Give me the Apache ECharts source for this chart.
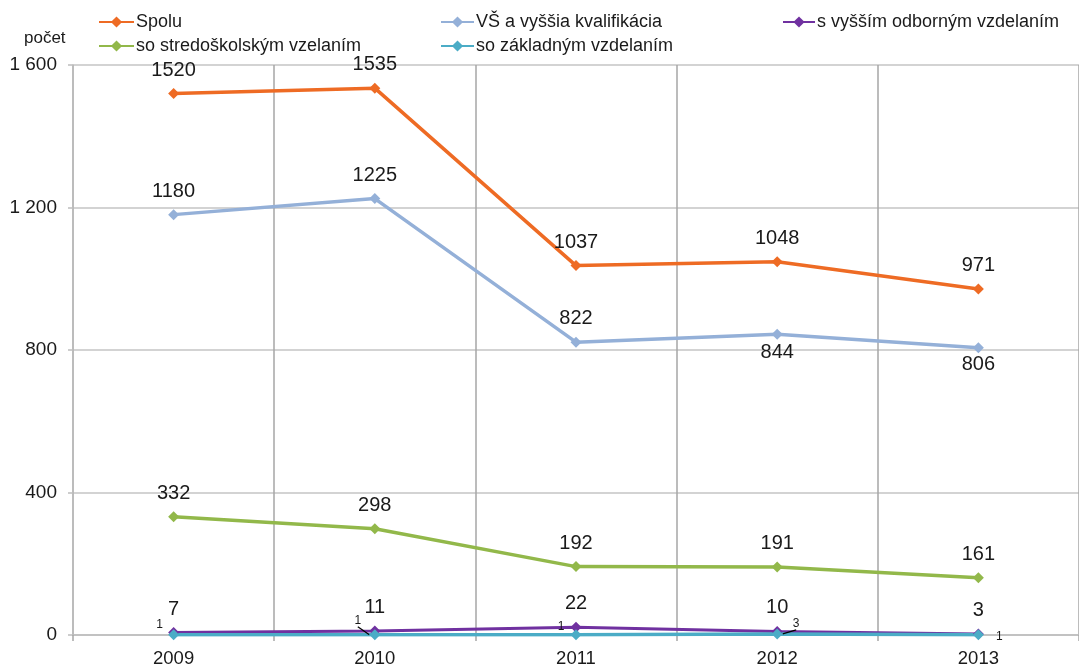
<!DOCTYPE html>
<html>
<head>
<meta charset="utf-8">
<script src="https://cdn.jsdelivr.net/npm/echarts@6/dist/echarts.min.js"></script>
<style>
  html, body { margin: 0; padding: 0; background: #fff; }
  #chart { width: 1079px; height: 668px; }
</style>
</head>
<body>
<div id="chart"></div>
<script>
const years = ["2009", "2010", "2011", "2012", "2013"];
const spolu = [1520, 1535, 1037, 1048, 971];
const vs = [1180, 1225, 822, 844, 806];
const vyssiOdborne = [7, 11, 22, 10, 3];
const stredoskolske = [332, 298, 192, 191, 161];
const zakladne = [1, 1, 1, 3, 1];
const yTicks = [0, 400, 800, 1200, 1600];

const FONT = "'Liberation Sans', Arial, sans-serif";
const TEXT = "#1a1a1a";

function fmt(v) {
  return String(v).replace(/\B(?=(\d{3})+(?!\d))/g, " ");
}

function lineSeries(name, values, color) {
  return {
    name: name,
    type: "line",
    data: values.slice(),
    symbol: "diamond",
    symbolSize: 11,
    lineStyle: { width: 3.5, color: color },
    itemStyle: { color: color },
    label: {
      show: true,
      position: "top",
      distance: 8,
      fontSize: 20,
      fontFamily: FONT,
      color: TEXT
    },
    emphasis: { disabled: true },
    animation: false
  };
}

// small labels of the lowest series, shifted from the point
const smallShift = [[-14, -10], [-17, -14], [-15, -8], [19, -10], [21, 2]];

const series = [
  lineSeries("Spolu", spolu, "#EE6B24"),
  lineSeries("VŠ a vyššia kvalifikácia", vs, "#94B0D8"),
  lineSeries("s vyšším odborným vzdelaním", vyssiOdborne, "#7031A0"),
  lineSeries("so stredoškolským vzelaním", stredoskolske, "#92B84A"),
  lineSeries("so základným vzdelaním", zakladne, "#4BACC6")
];

// last two VŠ labels sit under the points
series[1].data = vs.map((v, i) => i >= 3
  ? { value: v, label: { position: "bottom", distance: i === 3 ? 3 : 1 } }
  : v);
series[2].lineStyle.width = 3;
series[4].label = {
  show: true,
  position: "inside",
  fontSize: 12,
  fontFamily: FONT,
  color: TEXT
};
series[4].data = zakladne.map((v, i) =>
  (i === 1 || i === 3) ? { value: v, labelLine: { show: true } } : v);
series[4].labelLine = { show: false, lineStyle: { color: "#000", width: 1.2 } };
series[4].labelLayout = function (params) {
  const s = smallShift[params.dataIndex];
  return { dx: s[0], dy: s[1] };
};

function legendBlock(names, left, iconWidth) {
  return {
    data: names,
    orient: "vertical",
    left: left, top: 8,
    itemWidth: iconWidth, itemHeight: 14, itemGap: 6,
    textStyle: { fontSize: 18, color: TEXT, fontFamily: FONT, padding: [0, 0, 0, -3] }
  };
}

const option = {
  backgroundColor: "#fff",
  animation: false,
  textStyle: { fontFamily: FONT },
  title: {
    text: "počet",
    left: 19,
    top: 25,
    textStyle: { fontSize: 17, fontWeight: "normal", color: TEXT, fontFamily: FONT }
  },
  legend: [
    legendBlock(["Spolu", "so stredoškolským vzelaním"], 93, 35),
    legendBlock(["VŠ a vyššia kvalifikácia", "so základným vzdelaním"], 435, 33),
    legendBlock(["s vyšším odborným vzdelaním"], 777, 32)
  ],
  grid: { left: 73, top: 65, width: 1014, height: 571.5, containLabel: false },
  xAxis: {
    type: "category",
    data: years,
    boundaryGap: true,
    axisLine: { show: true, lineStyle: { color: "#BDBDBD", width: 1.5 } },
    axisTick: { show: true, length: 6, lineStyle: { color: "#A6A6A6", width: 1.5 } },
    axisLabel: { fontSize: 18.5, color: TEXT, margin: 14, fontFamily: FONT },
    splitLine: { show: true, lineStyle: { color: "#A6A6A6", width: 1.5 } }
  },
  yAxis: {
    type: "value",
    min: yTicks[0],
    max: yTicks[yTicks.length - 1],
    interval: yTicks[1] - yTicks[0],
    axisLine: { show: true, lineStyle: { color: "#BDBDBD", width: 1.5 } },
    axisTick: { show: true, length: 5, lineStyle: { color: "#BDBDBD", width: 1.5 } },
    axisLabel: { fontSize: 19, color: TEXT, margin: 16, fontFamily: FONT, formatter: fmt },
    splitLine: { show: true, lineStyle: { color: "#C4C4C4", width: 1.5 } }
  },
  series: series
};

document.addEventListener("DOMContentLoaded", () => {
  const chart = echarts.init(document.getElementById("chart"));
  chart.setOption(option);
});
</script>
</body>
</html>
